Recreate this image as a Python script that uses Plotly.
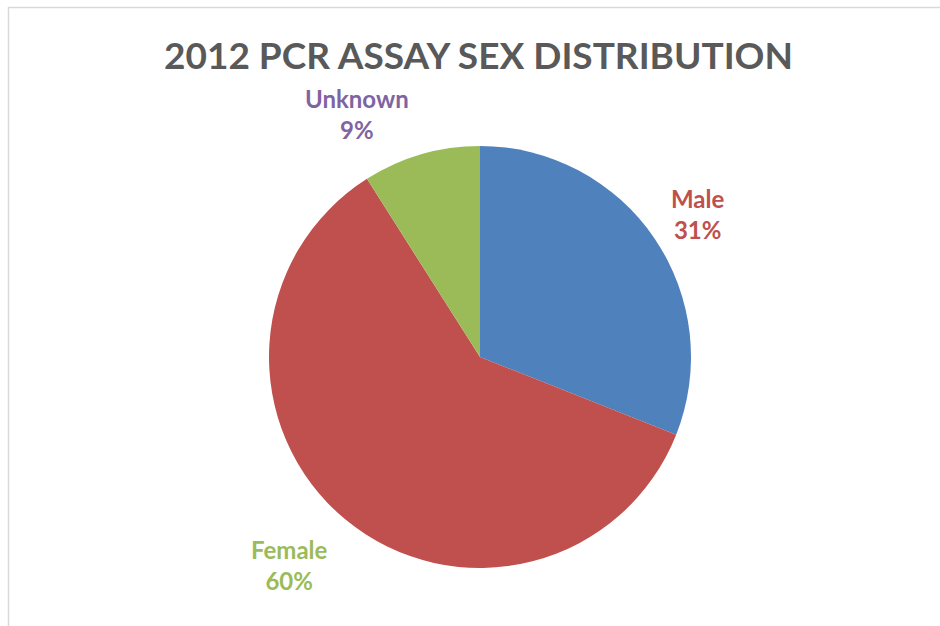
import plotly.graph_objects as go

labels = ["Male", "Female", "Unknown"]
values = [31, 60, 9]
slice_colors = ["#4F81BD", "#C0504D", "#9BBB59"]
label_colors = ["#C0504D", "#9BBB59", "#8064A2"]
title_text = "2012 PCR ASSAY SEX DISTRIBUTION"

W, H = 940, 626
cx, cy, r = 480, 357, 211

fig = go.Figure(go.Pie(
    labels=labels, values=values, sort=False, direction="clockwise", rotation=0,
    marker=dict(colors=slice_colors, line=dict(width=0)),
    textinfo="none", hoverinfo="label+percent", showlegend=False,
    domain=dict(x=[(cx - r) / W, (cx + r) / W], y=[1 - (cy + r) / H, 1 - (cy - r) / H]),
))

label_pos = [(698, 214), (289, 565), (357, 114)]
total = sum(values)
for lab, v, col, (px, py) in zip(labels, values, label_colors, label_pos):
    fig.add_annotation(x=px / W, y=1 - py / H, xref="paper", yref="paper",
                       xanchor="center", yanchor="middle",
                       text=f"<b>{lab}<br>{round(100 * v / total)}%</b>", showarrow=False,
                       font=dict(family="Lato", size=24, color=col), align="center")

fig.add_annotation(x=478 / W, y=1 - 55 / H, xref="paper", yref="paper", xanchor="center", yanchor="middle",
                   text=f"<b>{title_text}</b>",
                   showarrow=False, font=dict(family="Lato", size=37, color="#595959"))

fig.add_shape(type="rect", xref="paper", yref="paper", x0=8.5 / W, y0=-0.2, x1=1.2, y1=1 - 7.5 / H,
              line=dict(color="#D9D9D9", width=1.5))

fig.update_layout(width=W, height=H, margin=dict(l=0, r=0, t=0, b=0),
                  paper_bgcolor="white", plot_bgcolor="white")
fig.write_html("out.html")
